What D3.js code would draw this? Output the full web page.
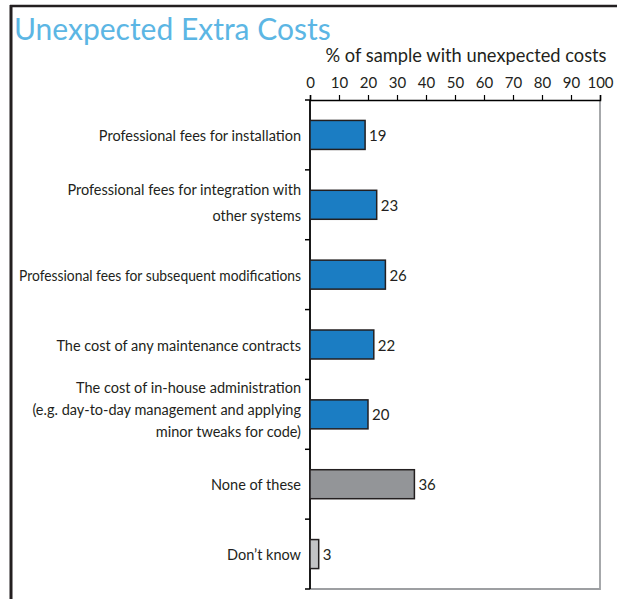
<!DOCTYPE html>
<html>
<head>
<meta charset="utf-8">
<script src="https://cdn.jsdelivr.net/npm/d3@7"></script>
<style>
  body { margin: 0; background: #fff; }
  svg { display: block; font-family: Lato, 'Open Sans', sans-serif; }
</style>
</head>
<body>
<div id="chart"></div>
<script>
'use strict';

// chart data
var categories = [
  [ 'Professional fees for installation' ],
  [ 'Professional fees for integration with', 'other systems' ],
  [ 'Professional fees for subsequent modifications' ],
  [ 'The cost of any maintenance contracts' ],
  [ 'The cost of in-house administration', '(e.g. day-to-day management and applying', 'minor tweaks for code)' ],
  [ 'None of these' ],
  [ 'Don\u2019t know' ]
];
var values = [ 19, 23, 26, 22, 20, 36, 3 ];
var groups = [ 'cost', 'cost', 'cost', 'cost', 'cost', 'none', 'dontknow' ];
var tickValues = [ 0, 10, 20, 30, 40, 50, 60, 70, 80, 90, 100 ];

var width = 617,
    height = 599,
    margin = { top: 100, right: 17, bottom: 10, left: 310 };

var plotW = width - margin.left - margin.right,
    plotH = 489;

var fills = { cost: '#1b7dc3', none: '#939598', dontknow: '#c3c4c6' };

var svg = d3.select( '#chart' )
  .append( 'svg' )
    .attr( 'width', width )
    .attr( 'height', height );

// page frame
svg.append( 'line' )
    .attr( 'x1', 10 ).attr( 'x2', width )
    .attr( 'y1', 6 ).attr( 'y2', 6 )
    .style( 'stroke', '#231f20' )
    .attr( 'stroke-width', 2.5 );
svg.append( 'line' )
    .attr( 'x1', 11 ).attr( 'x2', 11 )
    .attr( 'y1', 5 ).attr( 'y2', height )
    .style( 'stroke', '#231f20' )
    .attr( 'stroke-width', 3 );

svg.append( 'text' )
    .attr( 'x', 14 )
    .attr( 'y', 40 )
    .style( 'font-size', '30px' )
    .style( 'fill', '#5cb6e4' )
    .text( 'Unexpected Extra Costs' );

var g = svg.append( 'g' )
    .attr( 'transform', 'translate(' + margin.left + ',' + margin.top + ')' );

var x = d3.scaleLinear()
    .domain( [ 0, 100 ] )
    .range( [ 0, plotW ] );

var y = d3.scaleBand()
    .domain( d3.range( categories.length ) )
    .range( [ 0, plotH ] )
    .padding( 0 );

var barH = 29;

// grey frame on right and bottom
g.append( 'path' )
    .attr( 'd', 'M' + x( 100 ) + ',0V' + plotH + 'H0' )
    .style( 'fill', 'none' )
    .style( 'stroke', '#9d9fa2' )
    .attr( 'stroke-width', 1.8 );

// top axis
var xAxis = g.append( 'g' )
    .call( d3.axisTop( x ).tickValues( tickValues ).tickSize( 5 ).tickSizeOuter( 5 ) );
xAxis.select( '.domain' ).attr( 'stroke-width', 1.5 );
xAxis.selectAll( '.tick line' ).attr( 'stroke-width', 1.2 );
xAxis.selectAll( 'text' )
    .attr( 'y', -12 )
    .style( 'font-family', 'Lato, sans-serif' )
    .style( 'font-size', '15px' )
    .style( 'fill', '#231f20' );

g.append( 'text' )
    .attr( 'x', x( 53.8 ) )
    .attr( 'y', -38 )
    .attr( 'text-anchor', 'middle' )
    .style( 'font-size', '18.3px' )
    .style( 'fill', '#231f20' )
    .text( '% of sample with unexpected costs' );

// left axis line with ticks at category boundaries
g.append( 'line' )
    .attr( 'x1', 0 ).attr( 'x2', 0 )
    .attr( 'y1', 0 ).attr( 'y2', plotH )
    .style( 'stroke', '#000' )
    .attr( 'stroke-width', 1.8 );

g.selectAll( 'line.ytick' )
    .data( d3.range( categories.length + 1 ) )
  .enter().append( 'line' )
    .attr( 'class', 'ytick' )
    .attr( 'x1', -5 ).attr( 'x2', 0 )
    .attr( 'y1', function( i ) { return i * y.step(); } )
    .attr( 'y2', function( i ) { return i * y.step(); } )
    .style( 'stroke', '#000' )
    .attr( 'stroke-width', 1.5 );

// bars
g.selectAll( 'rect.bar' )
    .data( values )
  .enter().append( 'rect' )
    .attr( 'class', 'bar' )
    .attr( 'x', 0 )
    .attr( 'y', function( d, i ) { return y( i ) + y.bandwidth() / 2 - barH / 2; } )
    .attr( 'width', function( d ) { return x( d ); } )
    .attr( 'height', barH )
    .attr( 'fill', function( d, i ) { return fills[ groups[ i ] ]; } )
    .style( 'stroke', '#231f20' )
    .attr( 'stroke-width', 1.5 );

// value labels
g.selectAll( 'text.value' )
    .data( values )
  .enter().append( 'text' )
    .attr( 'class', 'value' )
    .attr( 'x', function( d ) { return x( d ) + 4; } )
    .attr( 'y', function( d, i ) { return y( i ) + y.bandwidth() / 2 + 6; } )
    .style( 'font-size', '15px' )
    .style( 'fill', '#231f20' )
    .text( function( d ) { return d; } );

// category labels, squeezed if wider than the label column
var maxLabelW = 282;
var lab = g.selectAll( 'text.cat' )
    .data( categories )
  .enter().append( 'text' )
    .attr( 'class', 'cat' )
    .attr( 'text-anchor', 'end' )
    .style( 'font-size', '14.5px' )
    .style( 'fill', '#231f20' );

lab.each( function( lines, i ) {
  var n = lines.length,
      lh = n === 2 ? 26 : 22,
      mid = y( i ) + y.bandwidth() / 2 + 6 - ( n - 1 ) * 2.5;
  d3.select( this ).selectAll( 'tspan' )
      .data( lines )
    .enter().append( 'tspan' )
      .attr( 'x', -9 )
      .attr( 'y', function( t, j ) { return mid + ( j - ( n - 1 ) / 2 ) * lh; } )
      .text( function( t ) { return t; } )
      .each( function() {
        if ( this.getComputedTextLength() > maxLabelW ) {
          d3.select( this )
              .attr( 'textLength', maxLabelW )
              .attr( 'lengthAdjust', 'spacingAndGlyphs' );
        }
      } );
} );
</script>
</body>
</html>
